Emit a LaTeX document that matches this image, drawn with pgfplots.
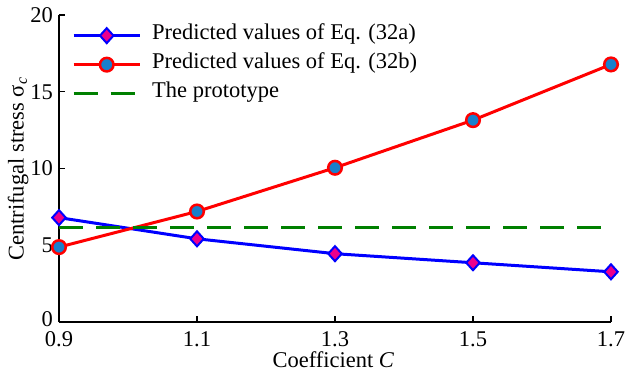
\documentclass[border=0pt]{standalone}
\usepackage{fontspec}
\setmainfont{Liberation Serif}
\usepackage{pgfplots}
\pgfplotsset{compat=1.18}
\definecolor{mfill}{rgb}{0.1,0.5,0.8}
\definecolor{dgreen}{rgb}{0,0.5,0}
\begin{document}
\fontsize{22.5}{27}\selectfont
\begin{tikzpicture}
\begin{axis}[
  scale only axis, width=552pt, height=307pt,
  xmin=0.9, xmax=1.7, ymin=0, ymax=20,
  axis lines*=left,
  axis line style={line width=2pt, black},
  xtick={0.9,1.1,1.3,1.5,1.7}, ytick={0,5,10,15,20},
  xticklabels={0.9,1.1,1.3,1.5,1.7},
  yticklabels={\raisebox{6pt}{0},5,10,15,20},
  tick align=inside, major tick length=6pt,
  tick style={line width=1.2pt, black},
  ticklabel style={font=\fontsize{22.5}{27}\selectfont},
  xticklabel style={anchor=center, yshift=-17pt},
  yticklabel style={xshift=1.5pt},
  label style={font=\fontsize{22.5}{27}\selectfont},
  xlabel={Coefficient \textit{C}},
  ylabel={Centrifugal stress σ\textsubscript{\textit{c}}},
  xlabel style={at={(axis description cs:0.497,-0.124)}, anchor=center},
  ylabel style={at={(axis description cs:-0.074,0.498)}, anchor=center},
  legend style={draw=none, fill=none, at={(0.0236,0.979)}, anchor=north west,
    font=\fontsize{22.5}{27}\selectfont, row sep=1pt, column sep=9pt, inner sep=0pt,
    nodes={inner sep=2pt, text height=16pt, text depth=8pt}},
  legend cell align=left,
  legend image code/.code={%
    \draw[mark repeat=2,mark phase=2] plot coordinates {(0pt,0pt) (33pt,0pt) (66pt,0pt)};},
]
\addplot[blue, line width=3pt, mark=diamond*, mark size=7.5pt,
  mark options={fill=magenta, draw=blue, line width=2pt, xscale=1.2}]
  coordinates {(0.9,6.8) (1.1,5.42) (1.3,4.45) (1.5,3.86) (1.7,3.27)};
\addlegendentry{Predicted values of Eq. (32a)}
\addplot[red, line width=3pt, mark=*, mark size=6.8pt,
  mark options={fill=mfill, draw=red, line width=2.5pt}]
  coordinates {(0.9,4.88) (1.1,7.2) (1.3,10.05) (1.5,13.15) (1.7,16.78)};
\addlegendentry{Predicted values of Eq. (32b)}
\addplot[dgreen, line width=3pt, dash pattern=on 24pt off 13pt]
  coordinates {(0.9,6.15) (1.7,6.15)};
\addlegendentry{The prototype}
\end{axis}
\pgfresetboundingbox
\path (current axis.south west) ++(-59pt,-53pt) rectangle ++(627pt,375pt);
\end{tikzpicture}
\end{document}
